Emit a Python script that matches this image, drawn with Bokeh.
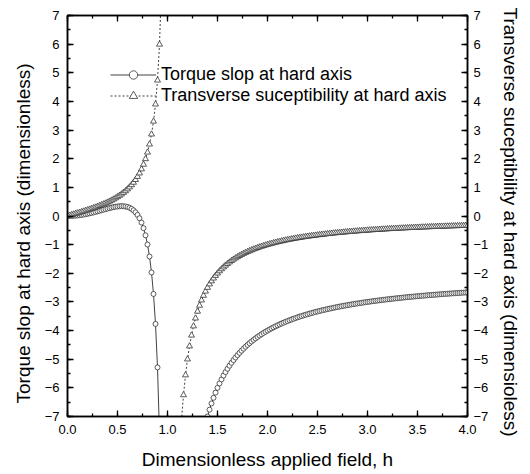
from bokeh.plotting import figure
from bokeh.models import (LinearAxis, SingleIntervalTicker, Legend, LegendItem,
                          Range1d, PrintfTickFormatter, CustomJSTickFormatter, Title)
from bokeh.embed import file_html
from bokeh.resources import INLINE

# ---- data ----
h_torque_low = [0.00, 0.02, 0.04, 0.06, 0.08, 0.10, 0.12, 0.14, 0.16, 0.18,
                0.20, 0.22, 0.24, 0.26, 0.28, 0.30, 0.32, 0.34, 0.36, 0.38,
                0.40, 0.42, 0.44, 0.46, 0.48, 0.50, 0.52, 0.54, 0.56, 0.58,
                0.60, 0.62, 0.64, 0.66, 0.68, 0.70, 0.72, 0.74, 0.76, 0.78,
                0.80, 0.82, 0.84, 0.86, 0.88, 0.90, 0.92]
torque_low = [0.0, 0.001, 0.003, 0.007, 0.013, 0.020, 0.028, 0.038, 0.050, 0.063,
              0.077, 0.092, 0.108, 0.125, 0.143, 0.162, 0.181, 0.201, 0.221, 0.240,
              0.259, 0.277, 0.294, 0.310, 0.323, 0.333, 0.340, 0.343, 0.341, 0.332,
              0.315, 0.289, 0.251, 0.199, 0.129, 0.038, -0.079, -0.230, -0.424, -0.674,
              -0.996, -1.415, -1.971, -2.722, -3.768, -5.286, -7.635]

h_chi_low = [0.00, 0.02, 0.04, 0.06, 0.08, 0.10, 0.12, 0.14, 0.16, 0.18,
             0.20, 0.22, 0.24, 0.26, 0.28, 0.30, 0.32, 0.34, 0.36, 0.38,
             0.40, 0.42, 0.44, 0.46, 0.48, 0.50, 0.52, 0.54, 0.56, 0.58,
             0.60, 0.62, 0.64, 0.66, 0.68, 0.70, 0.72, 0.74, 0.76, 0.78,
             0.80, 0.82, 0.84, 0.86, 0.88, 0.90, 0.92, 0.94]
chi_low = [0.0, 0.020, 0.040, 0.060, 0.081, 0.101, 0.122, 0.143, 0.164, 0.186,
           0.208, 0.231, 0.255, 0.279, 0.304, 0.330, 0.357, 0.384, 0.414, 0.444,
           0.476, 0.510, 0.546, 0.583, 0.624, 0.667, 0.713, 0.762, 0.816, 0.874,
           0.938, 1.007, 1.084, 1.169, 1.265, 1.373, 1.495, 1.636, 1.799, 1.992,
           2.222, 2.503, 2.853, 3.303, 3.901, 4.737, 5.990, 8.076]

h_chi_high = [1.14, 1.16, 1.18, 1.20, 1.22, 1.24, 1.26, 1.28, 1.30, 1.32,
              1.34, 1.36, 1.38, 1.40, 1.42, 1.44, 1.46, 1.48, 1.50, 1.52,
              1.54, 1.56, 1.58, 1.60, 1.62, 1.64, 1.66, 1.68, 1.70, 1.72,
              1.74, 1.76, 1.78, 1.80, 1.82, 1.84, 1.86, 1.88, 1.90, 1.92,
              1.94, 1.96, 1.98, 2.00, 2.02, 2.04, 2.06, 2.08, 2.10, 2.12,
              2.14, 2.16, 2.18, 2.20, 2.22, 2.24, 2.26, 2.28, 2.30, 2.32,
              2.34, 2.36, 2.38, 2.40, 2.42, 2.44, 2.46, 2.48, 2.50, 2.52,
              2.54, 2.56, 2.58, 2.60, 2.62, 2.64, 2.66, 2.68, 2.70, 2.72,
              2.74, 2.76, 2.78, 2.80, 2.82, 2.84, 2.86, 2.88, 2.90, 2.92,
              2.94, 2.96, 2.98, 3.00, 3.02, 3.04, 3.06, 3.08, 3.10, 3.12,
              3.14, 3.16, 3.18, 3.20, 3.22, 3.24, 3.26, 3.28, 3.30, 3.32,
              3.34, 3.36, 3.38, 3.40, 3.42, 3.44, 3.46, 3.48, 3.50, 3.52,
              3.54, 3.56, 3.58, 3.60, 3.62, 3.64, 3.66, 3.68, 3.70, 3.72,
              3.74, 3.76, 3.78, 3.80, 3.82, 3.84, 3.86, 3.88, 3.90, 3.92,
              3.94, 3.96, 3.98, 4.00]
chi_high = [-7.143, -6.250, -5.556, -5.000, -4.545, -4.167, -3.846, -3.571, -3.333, -3.125,
            -2.941, -2.778, -2.632, -2.500, -2.381, -2.273, -2.174, -2.083, -2.000, -1.923,
            -1.852, -1.786, -1.724, -1.667, -1.613, -1.563, -1.515, -1.471, -1.429, -1.389,
            -1.351, -1.316, -1.282, -1.250, -1.220, -1.190, -1.163, -1.136, -1.111, -1.087,
            -1.064, -1.042, -1.020, -1.000, -0.980, -0.962, -0.943, -0.926, -0.909, -0.893,
            -0.877, -0.862, -0.847, -0.833, -0.820, -0.806, -0.794, -0.781, -0.769, -0.758,
            -0.746, -0.735, -0.725, -0.714, -0.704, -0.694, -0.685, -0.676, -0.667, -0.658,
            -0.649, -0.641, -0.633, -0.625, -0.617, -0.610, -0.602, -0.595, -0.588, -0.581,
            -0.575, -0.568, -0.562, -0.556, -0.549, -0.543, -0.538, -0.532, -0.526, -0.521,
            -0.515, -0.510, -0.505, -0.500, -0.495, -0.490, -0.485, -0.481, -0.476, -0.472,
            -0.467, -0.463, -0.459, -0.455, -0.450, -0.446, -0.442, -0.439, -0.435, -0.431,
            -0.427, -0.424, -0.420, -0.417, -0.413, -0.410, -0.407, -0.403, -0.400, -0.397,
            -0.394, -0.391, -0.388, -0.385, -0.382, -0.379, -0.376, -0.373, -0.370, -0.368,
            -0.365, -0.362, -0.360, -0.357, -0.355, -0.352, -0.350, -0.347, -0.345, -0.342,
            -0.340, -0.338, -0.336, -0.333]

h_torque_high = [1.38, 1.40,
                 1.42, 1.44, 1.46, 1.48, 1.50, 1.52, 1.54, 1.56, 1.58, 1.60,
                 1.62, 1.64, 1.66, 1.68, 1.70, 1.72, 1.74, 1.76, 1.78, 1.80,
                 1.82, 1.84, 1.86, 1.88, 1.90, 1.92, 1.94, 1.96, 1.98, 2.00,
                 2.02, 2.04, 2.06, 2.08, 2.10, 2.12, 2.14, 2.16, 2.18, 2.20,
                 2.22, 2.24, 2.26, 2.28, 2.30, 2.32, 2.34, 2.36, 2.38, 2.40,
                 2.42, 2.44, 2.46, 2.48, 2.50, 2.52, 2.54, 2.56, 2.58, 2.60,
                 2.62, 2.64, 2.66, 2.68, 2.70, 2.72, 2.74, 2.76, 2.78, 2.80,
                 2.82, 2.84, 2.86, 2.88, 2.90, 2.92, 2.94, 2.96, 2.98, 3.00,
                 3.02, 3.04, 3.06, 3.08, 3.10, 3.12, 3.14, 3.16, 3.18, 3.20,
                 3.22, 3.24, 3.26, 3.28, 3.30, 3.32, 3.34, 3.36, 3.38, 3.40,
                 3.42, 3.44, 3.46, 3.48, 3.50, 3.52, 3.54, 3.56, 3.58, 3.60,
                 3.62, 3.64, 3.66, 3.68, 3.70, 3.72, 3.74, 3.76, 3.78, 3.80,
                 3.82, 3.84, 3.86, 3.88, 3.90, 3.92, 3.94, 3.96, 3.98, 4.00]
torque_high = [-7.263, -7.000,
               -6.762, -6.545, -6.348, -6.167, -6.000, -5.846, -5.704, -5.571, -5.448, -5.333,
               -5.226, -5.125, -5.030, -4.941, -4.857, -4.778, -4.703, -4.632, -4.564, -4.500,
               -4.439, -4.381, -4.326, -4.273, -4.222, -4.174, -4.128, -4.083, -4.041, -4.000,
               -3.961, -3.923, -3.887, -3.852, -3.818, -3.786, -3.754, -3.724, -3.695, -3.667,
               -3.639, -3.613, -3.588, -3.563, -3.538, -3.515, -3.493, -3.471, -3.449, -3.429,
               -3.408, -3.389, -3.370, -3.351, -3.333, -3.316, -3.299, -3.282, -3.266, -3.250,
               -3.235, -3.220, -3.205, -3.190, -3.176, -3.163, -3.149, -3.136, -3.124, -3.111,
               -3.099, -3.087, -3.075, -3.064, -3.053, -3.042, -3.031, -3.020, -3.010, -3.000,
               -2.990, -2.980, -2.971, -2.962, -2.952, -2.943, -2.935, -2.926, -2.917, -2.909,
               -2.901, -2.893, -2.885, -2.877, -2.870, -2.862, -2.855, -2.847, -2.840, -2.833,
               -2.826, -2.820, -2.813, -2.806, -2.800, -2.794, -2.787, -2.781, -2.775, -2.769,
               -2.763, -2.758, -2.752, -2.746, -2.741, -2.735, -2.730, -2.725, -2.719, -2.714,
               -2.709, -2.704, -2.699, -2.694, -2.690, -2.685, -2.680, -2.676, -2.671, -2.667]

x_label = "Dimensionless applied field, h"
y_label_left = "Torque slop at hard axis (dimensionless)"
y_label_right = "Transverse suceptibility at hard axis (dimensioless)"
legend_labels = ["Torque slop at hard axis", "Transverse suceptibility at hard axis"]

FONT = "Liberation Sans"

p = figure(frame_width=400, frame_height=401,
           x_range=Range1d(0, 4), y_range=Range1d(-7, 7),
           output_backend="svg", toolbar_location=None,
           x_axis_location=None, y_axis_location=None,
           min_border_left=67, min_border_right=60,
           min_border_top=15, min_border_bottom=56)
p.xgrid.visible = False
p.ygrid.visible = False
p.outline_line_color = "black"
p.outline_line_width = 1.5
p.background_fill_color = "white"
p.border_fill_color = "white"


def style(ax):
    ax.axis_line_color = "black"
    ax.axis_line_width = 1.5
    ax.major_tick_in = 6
    ax.major_tick_out = 0
    ax.minor_tick_in = 3
    ax.minor_tick_out = 0
    ax.major_tick_line_width = 1.3
    ax.minor_tick_line_width = 1.3
    ax.major_tick_line_color = "black"
    ax.minor_tick_line_color = "black"
    ax.major_label_text_font = FONT
    ax.major_label_text_color = "black"
    ax.major_label_text_font_size = "13px"
    ax.axis_label_text_font = FONT
    ax.axis_label_text_font_size = "19px"
    ax.axis_label_text_font_style = "normal"
    ax.axis_label_text_color = "black"


xb = LinearAxis(ticker=SingleIntervalTicker(interval=0.5, num_minor_ticks=2),
                formatter=PrintfTickFormatter(format="%.1f"), axis_label=x_label)
style(xb)
xb.major_label_standoff = 8
xb.axis_label_standoff = 12
p.add_layout(xb, "below")

xt = LinearAxis(ticker=SingleIntervalTicker(interval=0.5, num_minor_ticks=2),
                formatter=CustomJSTickFormatter(code="return ''"))
style(xt)
xt.major_label_standoff = 0
p.add_layout(xt, "above")

yl = LinearAxis(ticker=SingleIntervalTicker(interval=1, num_minor_ticks=2))
style(yl)
yl.major_label_standoff = 8
p.add_layout(yl, "left")

yr = LinearAxis(ticker=SingleIntervalTicker(interval=1, num_minor_ticks=2))
style(yr)
yr.major_label_standoff = 6
p.add_layout(yr, "right")

tl = Title(text=y_label_left, align="left", offset=13, standoff=16,
           text_font=FONT, text_font_size="19px", text_font_style="normal",
           text_color="black")
p.add_layout(tl, "left")
tr = Title(text=y_label_right, align="left", offset=-8, standoff=16,
           text_font=FONT, text_font_size="19px", text_font_style="normal",
           text_color="black")
p.add_layout(tr, "right")

LINE_C = "#111111"
MARK_C = "#333333"

l1 = p.line(h_torque_low, torque_low, line_color=LINE_C, line_width=0.8)
s1 = p.scatter(h_torque_low, torque_low, marker="circle", size=5,
               line_color=MARK_C, line_width=0.8, fill_color="white")
l1b = p.line(h_torque_high, torque_high, line_color=LINE_C, line_width=0.8)
s1b = p.scatter(h_torque_high, torque_high, marker="circle", size=5,
                line_color=MARK_C, line_width=0.8, fill_color="white")

l2 = p.line(h_chi_low, chi_low, line_color=LINE_C, line_width=0.8, line_dash="2 2")
s2 = p.scatter(h_chi_low, chi_low, marker="triangle", size=6,
               line_color=MARK_C, line_width=0.8, fill_color="white")
l2b = p.line(h_chi_high, chi_high, line_color=LINE_C, line_width=0.8, line_dash="2 2")
s2b = p.scatter(h_chi_high, chi_high, marker="triangle", size=6,
                line_color=MARK_C, line_width=0.8, fill_color="white")

legend = Legend(items=[LegendItem(label=legend_labels[0], renderers=[l1, s1]),
                       LegendItem(label=legend_labels[1], renderers=[l2, s2])],
                location=(43, 310), glyph_width=46, glyph_height=21,
                label_height=21, spacing=0, padding=0, margin=0,
                label_standoff=5, border_line_color=None,
                background_fill_alpha=0,
                label_text_font=FONT, label_text_font_size="18px",
                label_text_color="black")
p.add_layout(legend)

open("out.html", "w").write(file_html(p, INLINE))
